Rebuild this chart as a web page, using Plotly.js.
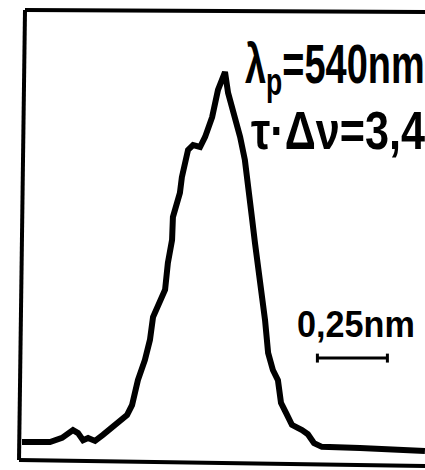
<!DOCTYPE html>
<html>
<head>
<meta charset="utf-8">
<script src="https://cdn.plot.ly/plotly-3.0.1.min.js"></script>
<style>html,body{margin:0;padding:0;background:#fff;}#chart{width:425px;height:470px;}</style>
</head>
<body>
<div id="chart"></div>
<script>
// Wavelength (nm) and relative intensity
const wavelength = [539.275,539.375,539.418,539.436,539.457,539.475,539.493,539.511,539.536,539.564,539.600,539.650,539.668,539.679,539.689,539.714,539.732,539.743,539.768,539.786,539.796,539.811,539.814,539.829,539.839,539.846,539.857,539.868,539.886,539.911,539.929,539.954,539.975,540.000,540.011,540.036,540.054,540.071,540.082,540.089,540.096,540.107,540.118,540.132,540.143,540.154,540.171,540.189,540.200,540.218,540.239,540.275,540.296,540.318,540.346,540.482,540.600,540.714];
const intensity = [0.008,0.008,0.019,0.027,0.040,0.032,0.013,0.019,0.011,0.027,0.048,0.080,0.107,0.147,0.174,0.228,0.282,0.343,0.381,0.416,0.488,0.550,0.611,0.649,0.676,0.718,0.764,0.791,0.804,0.799,0.826,0.879,0.952,1.000,0.944,0.879,0.826,0.764,0.702,0.676,0.611,0.542,0.477,0.416,0.335,0.247,0.201,0.174,0.113,0.086,0.054,0.040,0.029,0.005,-0.005,-0.008,-0.013,-0.016];
const peakLabel = "λ<sub>p</sub>=540nm";
const productLabel = "τ·Δν=3,4";
const scaleLabel = "0,25nm";
const scaleBarStart = 540.33;
const scaleBarLength = 0.25; // nm
const scaleBarLevel = 0.233;

const W = 425, H = 470;
const px = v => v / W;
const py = v => 1 - v / H;

const trace = {
  x: wavelength, y: intensity, type: 'scatter', mode: 'lines',
  line: {color: '#000', width: 6, shape: 'linear'},
  hoverinfo: 'skip'
};

const frame = {type: 'line', xref: 'paper', yref: 'paper', line: {color: '#000', width: 4}};
const bar = {type: 'line', xref: 'x', yref: 'y', line: {color: '#000', width: 3}};
const tick = 0.012;
const fontFam = 'Liberation Sans, Arial, sans-serif';

const layout = {
  width: W, height: H,
  margin: {l: 0, r: 0, t: 0, b: 0},
  paper_bgcolor: '#fff', plot_bgcolor: '#fff',
  showlegend: false,
  xaxis: {range: [539.1964, 540.7143], visible: false, fixedrange: true},
  yaxis: {range: [-0.067, 1.193], visible: false, fixedrange: true},
  shapes: [
    Object.assign({}, frame, {x0: px(25), y0: py(10), x1: px(425), y1: py(12)}),
    Object.assign({}, frame, {x0: px(25), y0: py(10), x1: px(19), y1: py(460)}),
    Object.assign({}, frame, {x0: px(19), y0: py(460), x1: px(425), y1: py(466)}),
    Object.assign({}, bar, {x0: scaleBarStart, x1: scaleBarStart + scaleBarLength, y0: scaleBarLevel, y1: scaleBarLevel}),
    Object.assign({}, bar, {x0: scaleBarStart, x1: scaleBarStart, y0: scaleBarLevel - tick, y1: scaleBarLevel + tick}),
    Object.assign({}, bar, {x0: scaleBarStart + scaleBarLength, x1: scaleBarStart + scaleBarLength, y0: scaleBarLevel - tick, y1: scaleBarLevel + tick})
  ],
  annotations: [
    {text: peakLabel, xref: 'paper', yref: 'paper', x: px(243), y: py(68), xanchor: 'left', yanchor: 'middle', showarrow: false,
     font: {family: fontFam, size: 55, color: '#000', weight: 'bold'}},
    {text: productLabel, xref: 'paper', yref: 'paper', x: px(249), y: py(130), xanchor: 'left', yanchor: 'middle', showarrow: false,
     font: {family: fontFam, size: 54, color: '#000', weight: 'bold'}},
    {text: scaleLabel, xref: 'paper', yref: 'paper', x: px(295), y: py(324), xanchor: 'left', yanchor: 'middle', showarrow: false,
     font: {family: fontFam, size: 36, color: '#000', weight: 'bold'}}
  ]
};

// horizontal condensation of each label (the reference uses a narrow stencil face)
const squeeze = [0.69, 0.8, 0.95];

Plotly.newPlot('chart', [trace], layout, {staticPlot: true, displayModeBar: false}).then(gd => {
  const texts = gd.querySelectorAll('.annotation-text');
  texts.forEach((t, i) => {
    t.style.transformBox = 'fill-box';
    t.style.transformOrigin = '0% 50%';
    t.style.transform = 'scaleX(' + squeeze[i] + ')';
  });
});
</script>
</body>
</html>
